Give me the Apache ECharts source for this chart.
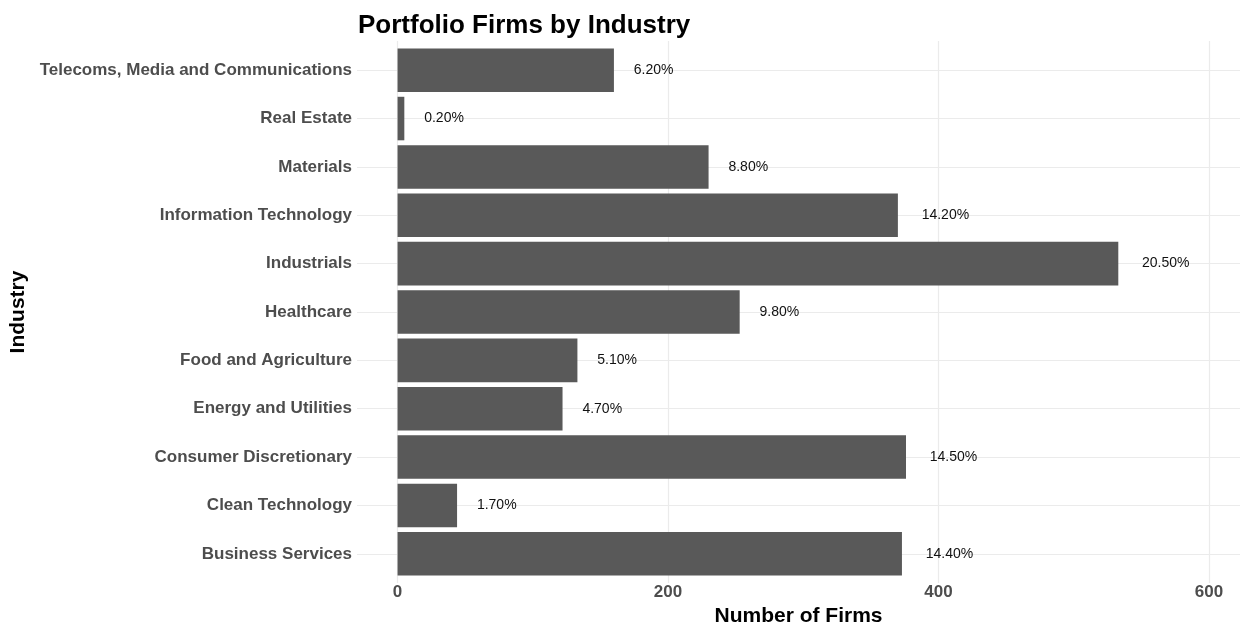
<!DOCTYPE html>
<html>
<head>
<meta charset="utf-8">
<script src="https://cdn.jsdelivr.net/npm/echarts@6/dist/echarts.min.js"></script>
<style>
html,body{margin:0;padding:0;background:#fff;}
#main{width:1244px;height:624px;}
</style>
</head>
<body>
<div id="main"></div>
<script>
const categories = ['Business Services','Clean Technology','Consumer Discretionary','Energy and Utilities','Food and Agriculture','Healthcare','Industrials','Information Technology','Materials','Real Estate','Telecoms, Media and Communications'];
const firmCounts = [373, 44, 376, 122, 133, 253, 533, 370, 230, 5, 160];
const shareLabels = ['14.40%','1.70%','14.50%','4.70%','5.10%','9.80%','20.50%','14.20%','8.80%','0.20%','6.20%'];
const xTicks = [0, 200, 400, 600];

const FONT = '"Liberation Sans", Arial, Helvetica, sans-serif';
const ctx = document.createElement('canvas').getContext('2d');
ctx.font = '14px ' + FONT;

const chart = echarts.init(document.getElementById('main'), null, {renderer: 'canvas'});
const option = {
  animation: false,
  backgroundColor: '#ffffff',
  title: {
    text: 'Portfolio Firms by Industry',
    left: 353, top: 8,
    textStyle: {fontFamily: FONT, fontWeight: 'bold', fontSize: 26, color: '#000'}
  },
  grid: [
    {left: 357, right: 4, top: 41, bottom: 41, outerBoundsMode: 'none', containLabel: false},
    {left: 357, right: 4, top: 46, bottom: 46, outerBoundsMode: 'none', containLabel: false}
  ],
  xAxis: [
    {gridIndex: 0, type: 'value', min: -30, max: 623, show: false},
    {
      gridIndex: 1, type: 'value', min: -30, max: 623,
      axisLine: {show: false}, axisTick: {show: false}, splitLine: {show: false},
      axisLabel: {customValues: xTicks, margin: 6, fontSize: 17, fontWeight: 'bold', color: '#4d4d4d', fontFamily: FONT},
      name: 'Number of Firms', nameLocation: 'middle', nameGap: 24,
      nameTextStyle: {fontSize: 21, fontWeight: 'bold', color: '#000', fontFamily: FONT}
    }
  ],
  yAxis: [
    {gridIndex: 0, type: 'value', min: 0, max: 1, show: false},
    {
      gridIndex: 1, type: 'category', data: categories,
      axisLine: {show: false}, axisTick: {show: false}, splitLine: {show: false},
      axisLabel: {margin: 5, fontSize: 17, fontWeight: 'bold', color: '#4d4d4d', fontFamily: FONT},
      name: 'Industry', nameLocation: 'middle', nameGap: 328, nameRotate: 90,
      nameTextStyle: {fontSize: 21, fontWeight: 'bold', color: '#000', fontFamily: FONT}
    }
  ],
  series: [
    {
      type: 'line', xAxisIndex: 0, yAxisIndex: 0, data: [[0, 0]], symbol: 'none',
      lineStyle: {opacity: 0}, silent: true, z: 1,
      markLine: {z: 1, symbol: 'none', silent: true, label: {show: false},
        lineStyle: {color: '#ebebeb', width: 1.2, type: 'solid'},
        data: xTicks.map(v => ({xAxis: v}))}
    },
    {
      type: 'line', xAxisIndex: 1, yAxisIndex: 1, data: [[0, 0]], symbol: 'none',
      lineStyle: {opacity: 0}, silent: true, z: 1,
      markLine: {z: 1, symbol: 'none', silent: true, label: {show: false},
        lineStyle: {color: '#ebebeb', width: 1.2, type: 'solid'},
        data: categories.map((c, i) => ({yAxis: i}))}
    },
    {
      type: 'bar', xAxisIndex: 1, yAxisIndex: 1, z: 3,
      barCategoryGap: '10%',
      itemStyle: {color: '#595959'},
      data: firmCounts.map((v, i) => ({
        value: v,
        label: {distance: ctx.measureText(shareLabels[i]).width / 2}
      })),
      label: {
        show: true, position: 'right',
        formatter: p => shareLabels[p.dataIndex],
        fontSize: 14, color: '#111', fontFamily: FONT,
        textBorderWidth: 0, textBorderColor: 'transparent'
      }
    }
  ]
};
chart.setOption(option);
</script>
</body>
</html>
